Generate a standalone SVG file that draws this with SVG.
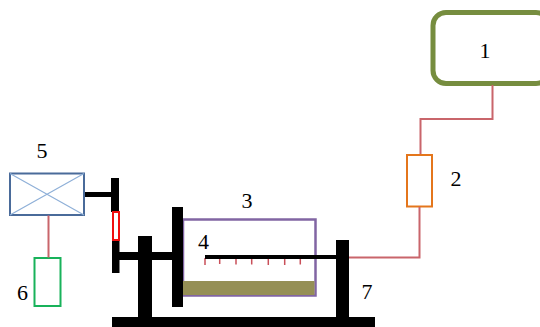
<svg xmlns="http://www.w3.org/2000/svg" width="540" height="327" viewBox="0 0 540 327">
<style>
.t{font-family:"Liberation Serif","Times New Roman",serif;font-size:22px;fill:#000}
.w{fill:none;stroke:#c9656b;stroke-width:2}
.tick{fill:none;stroke:#c9505a;stroke-width:1.500}
.b{fill:#000}
</style>
<rect width="540" height="327" fill="#fff"/>
<g id="node1"><rect x="433" y="12.500" width="116" height="71" rx="13" fill="#fff" stroke="#768d3f" stroke-width="5"/><text class="t" x="485" y="58" text-anchor="middle">1</text></g>
<g id="node2"><rect x="407" y="155" width="25" height="51.500" fill="#fff" stroke="#e4761c" stroke-width="2"/><text class="t" x="456" y="186" text-anchor="middle">2</text></g>
<g id="node3"><rect x="183" y="219.500" width="132.500" height="76" fill="none" stroke="#8165a3" stroke-width="2.500"/><rect x="183" y="281" width="131.500" height="14" fill="#958f55"/><text class="t" x="247" y="208" text-anchor="middle">3</text></g>
<g id="node4">
<path class="tick" d="M205 258V265M219.700 258V264M236 258V264.500M251.700 258V264.500M268.300 258V265M284.700 258V265M300.300 258V264.500"/>
<text class="t" x="203.500" y="249" text-anchor="middle">4</text></g>
<g id="node5"><rect x="10" y="173.500" width="74" height="41.500" fill="#fff" stroke="#4a6b9a" stroke-width="2"/><path d="M10 173.500L84 215M84 173.500L10 215" stroke="#8fb0d8" stroke-width="1.200" fill="none"/><text class="t" x="42" y="158" text-anchor="middle">5</text></g>
<g id="node6"><rect x="34.500" y="258" width="26" height="48" fill="#fff" stroke="#18b25a" stroke-width="2"/><text class="t" x="22.500" y="300" text-anchor="middle">6</text></g>
<g id="node7"><rect class="b" x="336" y="240" width="13" height="78"/><text class="t" x="367" y="299" text-anchor="middle">7</text></g>
<g id="frame">
<rect class="b" x="112" y="317" width="263" height="10"/>
<rect class="b" x="138" y="236" width="14" height="82"/>
<rect class="b" x="172" y="207" width="11" height="100"/>
<rect class="b" x="111" y="178" width="8" height="34"/>
<rect class="b" x="112" y="241" width="7.500" height="32"/>
<rect x="113" y="212" width="6" height="28" fill="#fff" stroke="#f01010" stroke-width="2"/>
</g>
<g id="connectors">
<path class="w" d="M492.500 85V119H420.500V154"/>
<path class="w" d="M419.500 207V257.500H349"/>
<path class="w" d="M48.500 215.500V257.500"/>
<path d="M85 194.500H111" stroke="#000" stroke-width="5" fill="none"/>
<path d="M119 256H172" stroke="#000" stroke-width="8" fill="none"/>
<path d="M205 257H336" stroke="#000" stroke-width="4" fill="none"/>
</g>
</svg>
